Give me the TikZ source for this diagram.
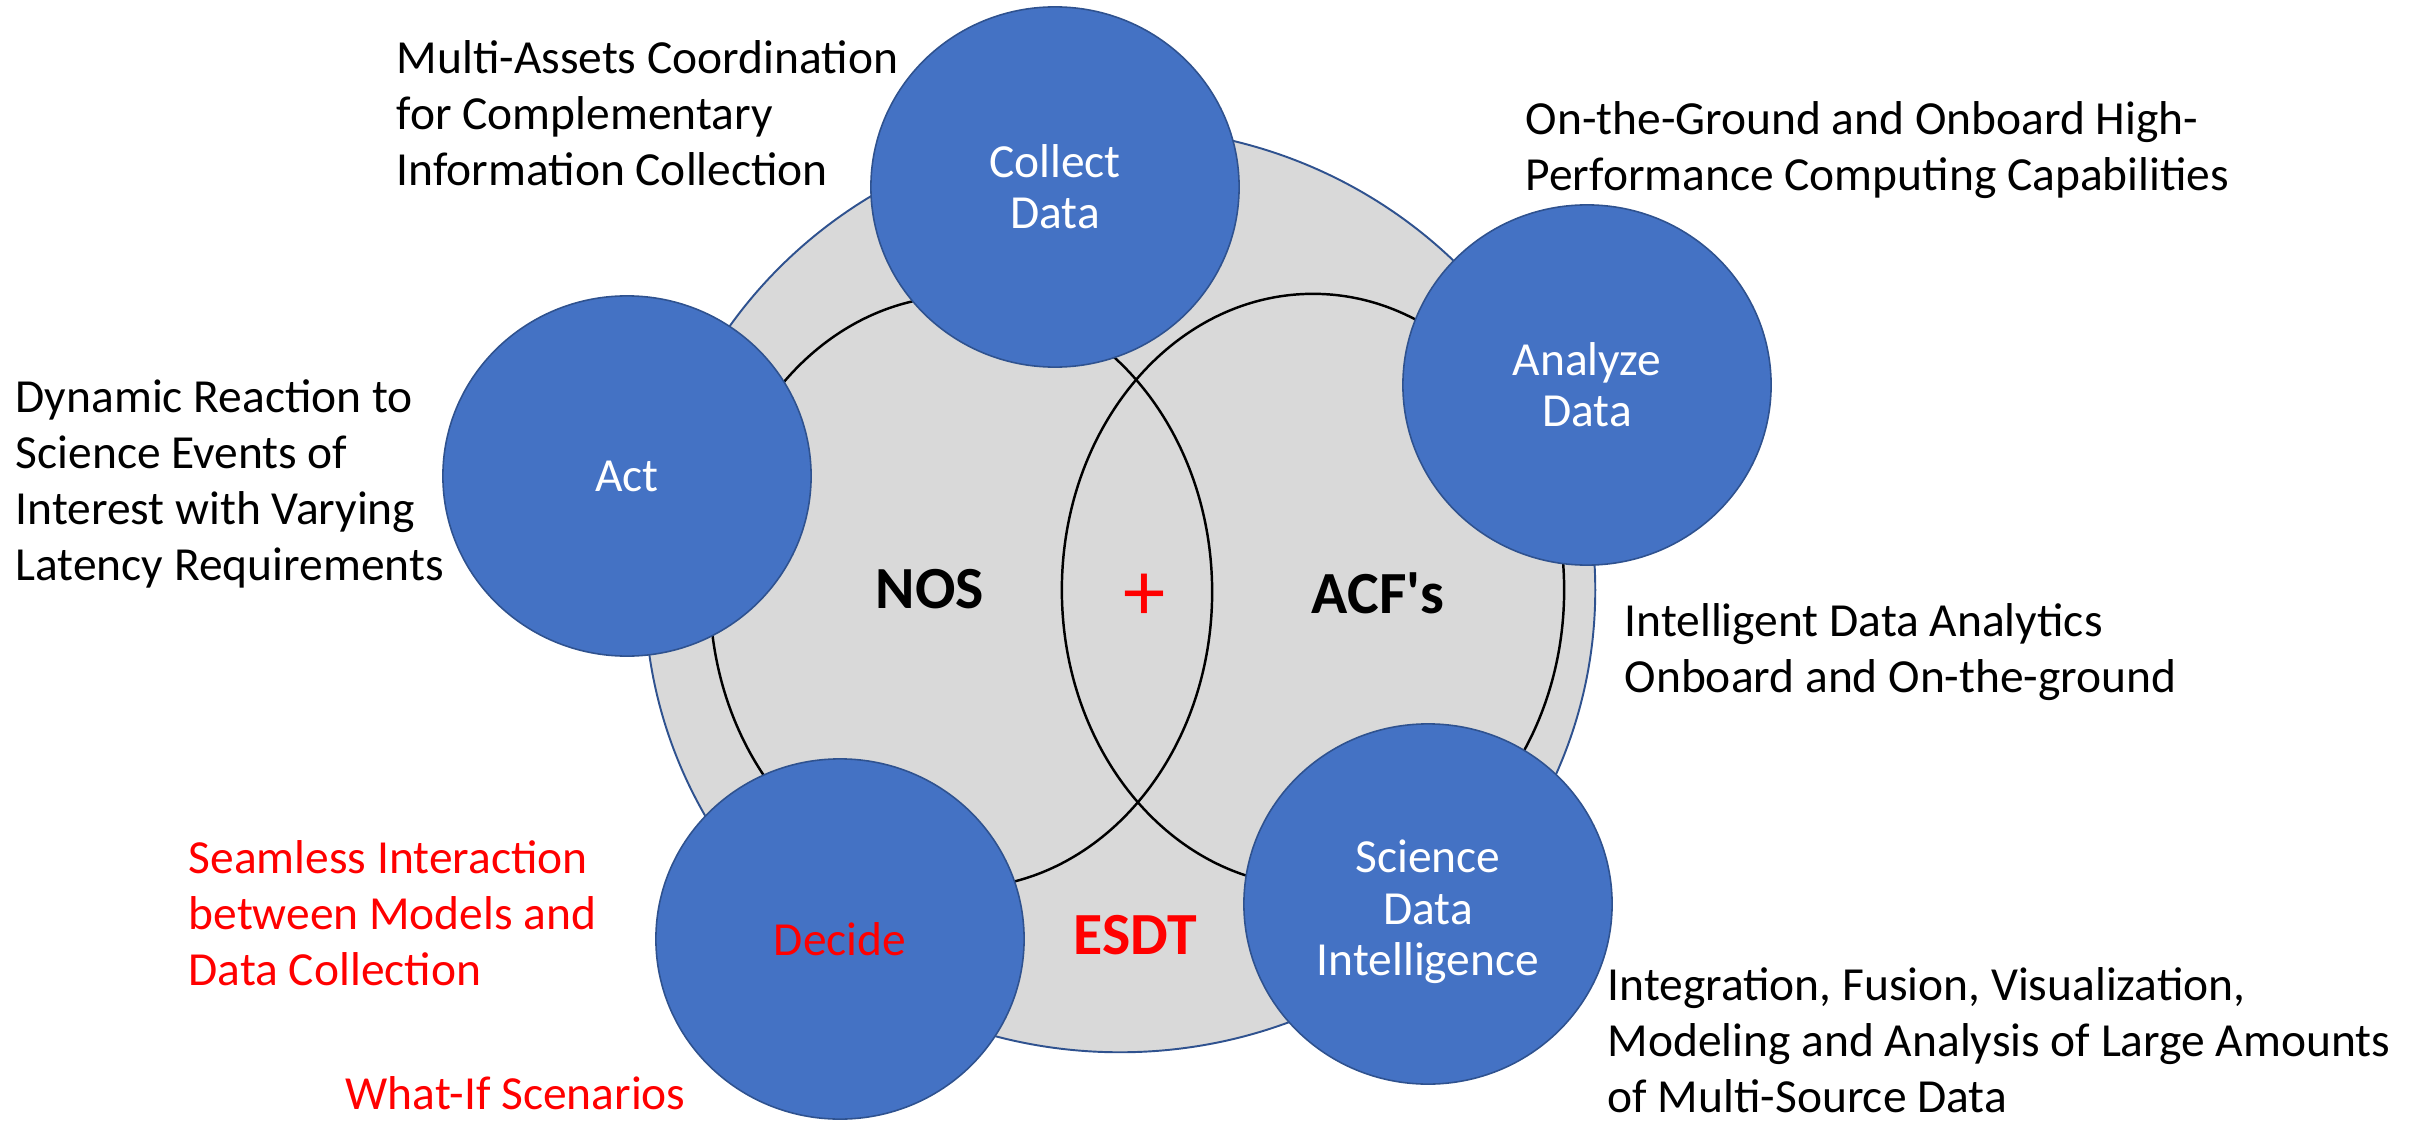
\documentclass[tikz,border=0pt]{standalone}
\usepackage{fontspec}
\setmainfont{Carlito}
\newfontfamily\straightquote{Carlito}[Ligatures=TeXOff]
\usetikzlibrary{shapes.geometric}
\definecolor{officeblue}{HTML}{4472C4}
\definecolor{edgeblue}{HTML}{2F528F}
\definecolor{discgray}{HTML}{D9D9D9}
\definecolor{notered}{HTML}{FF0000}
\tikzstyle{cycle_node} = [ellipse, 
draw=edgeblue, line width=0.45pt, 
fill=officeblue, 
minimum width=3.68cm, 
minimum height=3.6cm, inner sep=0pt, 
align=center, text=white, 
font=\fontsize{13.5}{14.6}\selectfont]
\tikzstyle{note} = [anchor=west, align=left, inner sep=0pt, font=\fontsize{13.5}{15.9}\selectfont]

\begin{document}
\begin{tikzpicture}[x=0.01cm, y=-0.01cm]
                    \useasboundingbox (0,0) rectangle (2423,1121);
                    % Define styles for rings and labels
                    \tikzstyle{ring} = [ellipse, draw=black, line width=0.7pt, inner sep=0pt, minimum width=5.02cm, minimum height=5.92cm]
                    \tikzstyle{big_label} = [inner sep=0pt, font=\fontsize{17}{20}\selectfont\bfseries]
                    \tikzstyle{red_note} = [note, text=notered]  % red notes

                    % Place disc and rings
                    \node [ellipse, draw=edgeblue, line width=0.55pt, fill=discgray, minimum width=9.5cm, minimum height=9.24cm] (esdt_disc) at (1120,590) {};
                    \node [ring] (nos_ring) at (961,592) {};
                    \node [ring] (acf_ring) at (1313,590) {};

                    % Place labels inside the disc
                    \node [big_label] (nos) at (930,589) {NOS};
                    \node [big_label] (acf) at (1378,593) {\straightquote ACF's};
                    \node [inner sep=0pt, text=notered, font=\fontsize{24}{26}\selectfont] (plus) at (1145,597) {+};
                    \node [big_label, text=notered] (esdt) at (1135,935) {ESDT};

                    % Place cycle nodes
                    \node [cycle_node] (collect) at (1055,187) {Collect\\Data};
                    \node [cycle_node] (analyze) at (1587,385) {Analyze\\Data};
                    \node [cycle_node] (act) at (627,476) {Act};
                    \node [cycle_node, text=notered] (decide) at (840,939) {Decide};
                    \node [cycle_node] (sdi) at (1428,904) {};
                    \node [cycle_node, draw=none, fill=none, minimum size=0pt] (sdi_text) at (1428,912) {Science\\Data\\Intelligence};

                    % Place notes
                    \node [note] (multi_assets) at (396,113) {Multi-Assets Coordination\\for Complementary\\Information Collection};
                    \node [note] (dyn_reaction) at (15,484) {Dynamic Reaction to\\Science Events of\\Interest with Varying\\Latency Requirements};
                    \node [note] (hpc) at (1525,150) {On-the-Ground and Onboard High-\\Performance Computing Capabilities};
                    \node [note] (analytics) at (1624,652) {Intelligent Data Analytics\\Onboard and On-the-ground};
                    \node [note] (integration) at (1607,1040) {Integration, Fusion, Visualization,\\Modeling and Analysis of Large Amounts\\of Multi-Source Data};
                    \node [red_note] (seamless) at (188,913) {Seamless Interaction\\between Models and\\Data Collection};
                    \node [red_note] (what_if) at (345,1093) {What-If Scenarios};
                \end{tikzpicture}
\end{document}
